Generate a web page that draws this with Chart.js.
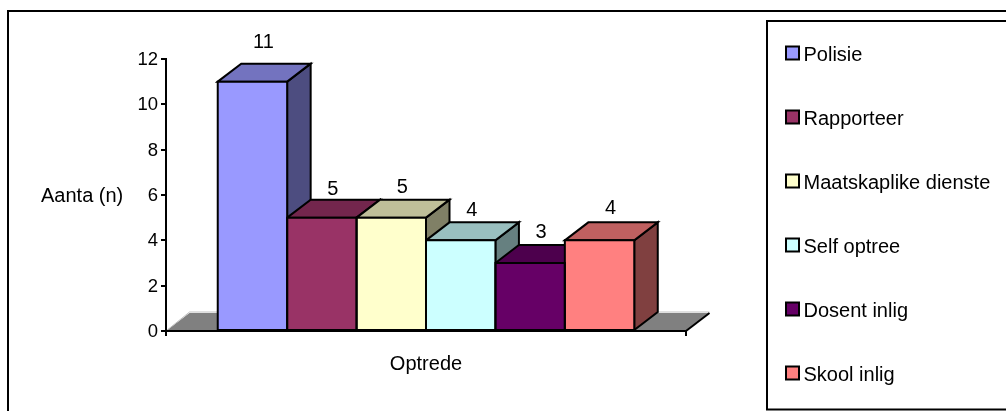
<!DOCTYPE html>
<html>
<head>
<meta charset="utf-8">
<style>
html,body{margin:0;padding:0;background:#fff;overflow:hidden}
#wrap{position:relative;width:1006px;height:411px}
canvas{display:block}
</style>
<script src="https://cdn.jsdelivr.net/npm/chart.js@4/dist/chart.umd.min.js"></script>
</head>
<body>
<div id="wrap"><canvas id="c" width="1006" height="411"></canvas></div>
<script>
const categories = ['Optrede'];
const seriesNames = ['Polisie','Rapporteer','Maatskaplike dienste','Self optree','Dosent inlig','Skool inlig'];
const seriesValues = [11,5,5,4,3,4];
const seriesColors = ['#9999FF','#993366','#FFFFCC','#CCFFFF','#660066','#FF8080'];
const topColors = ['#7373BF','#73264D','#BFBF99','#99BFBF','#4D004D','#BF6060'];
const sideColors = ['#4D4D80','#4D1A33','#808066','#668080','#330033','#804040'];
const labelLift = [15.4,5,6.7,6.3,7,8];
const yTitle = 'Aanta (n)';
const xTitle = 'Optrede';
const FONT = '"Liberation Sans", Arial, sans-serif';
const TEXT = '#000';
const DX = 23.5, DY = 18;

function poly(ctx, pts, fill, stroke, lw){
  ctx.beginPath();
  pts.forEach((p,i)=> i? ctx.lineTo(p[0],p[1]) : ctx.moveTo(p[0],p[1]));
  ctx.closePath();
  if(fill){ctx.fillStyle=fill;ctx.fill();}
  if(stroke){ctx.strokeStyle=stroke;ctx.lineWidth=lw||2;ctx.lineJoin='miter';ctx.stroke();}
}

const frames = {
  id:'frames',
  beforeDraw(chart){
    const {ctx,chartArea:a} = chart;
    ctx.save();
    ctx.fillStyle='#fff';ctx.fillRect(0,0,chart.width,chart.height);
    ctx.strokeStyle='#000';ctx.lineWidth=2;
    ctx.strokeRect(8,11,1100,500);
    poly(ctx,[[a.left,a.bottom],[a.left+DX,a.bottom-DY],[a.right+DX,a.bottom-DY],[a.right,a.bottom]],'#808080',null);
    ctx.strokeStyle='#C0C0C0';ctx.lineWidth=1;
    ctx.beginPath();ctx.moveTo(a.left+DX,a.bottom-DY-1);ctx.lineTo(a.right+DX,a.bottom-DY-1);ctx.stroke();
    ctx.beginPath();ctx.moveTo(a.left,a.bottom);ctx.lineTo(a.left+DX,a.bottom-DY-1);ctx.stroke();
    ctx.strokeStyle='#000';ctx.lineWidth=2;
    ctx.beginPath();ctx.moveTo(a.right,a.bottom);ctx.lineTo(a.right+DX,a.bottom-DY);ctx.stroke();
    ctx.restore();
  },
  beforeDatasetsDraw(chart){
    const {ctx} = chart;
    ctx.save();
    chart.data.datasets.forEach((ds,i)=>{
      const b = chart.getDatasetMeta(i).data[0];
      const l=b.x-b.width/2, r=b.x+b.width/2, t=b.y, base=b.base;
      poly(ctx,[[r,t],[r+DX,t-DY],[r+DX,base-DY],[r,base]],sideColors[i],'#000',2);
      poly(ctx,[[l,t],[l+DX,t-DY],[r+DX,t-DY],[r,t]],topColors[i],'#000',2);
    });
    ctx.restore();
  },
  afterDatasetsDraw(chart){
    const {ctx} = chart;
    ctx.save();
    chart.data.datasets.forEach((ds,i)=>{
      const b = chart.getDatasetMeta(i).data[0];
      const l=b.x-b.width/2, r=b.x+b.width/2, t=b.y, base=b.base;
      poly(ctx,[[l,t],[r,t],[r,base],[l,base]],null,'#000',2);
      ctx.fillStyle=TEXT;ctx.font='20px '+FONT;ctx.textAlign='center';ctx.textBaseline='alphabetic';
      ctx.fillText(String(ds.data[0]), b.x+11, t-DY-labelLift[i]);
    });
    ctx.restore();
  },
  afterDraw(chart){
    const {ctx} = chart;
    ctx.save();
    ctx.fillStyle=TEXT;ctx.textBaseline='alphabetic';
    ctx.font='20px '+FONT;ctx.textAlign='left';
    ctx.fillText(yTitle,41,202);
    ctx.strokeStyle='#000';ctx.lineWidth=2;
    ctx.strokeRect(767,21,300,388.5);
    chart.data.datasets.forEach((ds,i)=>{
      const y = 53+64*i;
      ctx.fillStyle=ds.backgroundColor;
      ctx.fillRect(786,y-6.5,13,13);
      ctx.strokeStyle='#000';ctx.lineWidth=2;
      ctx.strokeRect(786,y-6.5,13,13);
      ctx.fillStyle=TEXT;ctx.font='20px '+FONT;ctx.textAlign='left';ctx.textBaseline='alphabetic';
      ctx.fillText(ds.label,803.5,61+64*i);
    });
    ctx.restore();
  }
};

new Chart(document.getElementById('c'),{
  type:'bar',
  data:{
    labels:categories,
    datasets:seriesNames.map((n,i)=>({
      label:n,
      data:[seriesValues[i]],
      backgroundColor:seriesColors[i],
      borderWidth:0
    }))
  },
  options:{
    responsive:false,
    animation:false,
    layout:{padding:{left:0,right:320,top:59,bottom:0}},
    datasets:{bar:{categoryPercentage:0.801,barPercentage:1}},
    plugins:{legend:{display:false},tooltip:{enabled:false},title:{display:false}},
    scales:{
      x:{
        type:'category',
        border:{color:'#000',width:2},
        grid:{offset:true,drawOnChartArea:false,color:'#000',lineWidth:2,tickLength:5},
        ticks:{display:false},
        title:{display:true,text:xTitle,color:TEXT,font:{family:FONT,size:20},padding:{top:0,bottom:35}},
        afterFit(s){s.height=80;}
      },
      y:{
        min:0,max:12,
        border:{color:'#000',width:2},
        grid:{drawOnChartArea:false,color:'#000',lineWidth:2,tickLength:5},
        ticks:{stepSize:2,color:TEXT,padding:3,labelOffset:1,font:{family:FONT,size:18.5}},
        afterFit(s){s.width=166;}
      }
    }
  },
  plugins:[frames]
});
</script>
</body>
</html>
